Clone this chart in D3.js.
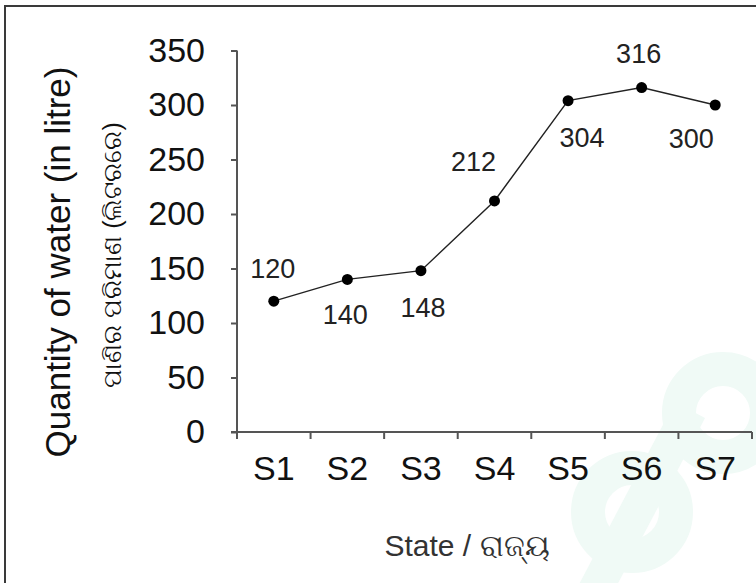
<!DOCTYPE html>
<html>
<head>
<meta charset="utf-8">
<script src="https://cdn.jsdelivr.net/npm/d3@7"></script>
<style>
  body { margin: 0; background: #fff; }
  svg { display: block; font-family: "Liberation Sans", Arial, sans-serif; }
</style>
</head>
<body>
<svg id="chart" width="756" height="583"></svg>
<script>
// data
const states = ["S1", "S2", "S3", "S4", "S5", "S6", "S7"];
const water = [120, 140, 148, 212, 304, 316, 300];
const yTicks = [0, 50, 100, 150, 200, 250, 300, 350];
// value labels: nudge from the point (baseline offsets)
const labelDx = [-1, -2, 2, -21, 14, -3, -24];
const labelDy = [-23, 45, 46, -30, 46, -25, 43];

const svg = d3.select("#chart");

// frame round the picture (it runs off the right and bottom)
svg.append("rect")
  .attr("x", 5).attr("y", 6)
  .attr("width", 760).attr("height", 600)
  .attr("fill", "none")
  .attr("stroke", "#3a3a3a")
  .attr("stroke-width", 2);

// faint watermark bottom right
const wm = svg.append("g").attr("fill", "none").attr("stroke", "#f0faf6");
wm.append("circle").attr("cx", 723).attr("cy", 413).attr("r", 44).attr("stroke-width", 34);
wm.append("circle").attr("cx", 632).attr("cy", 512).attr("r", 44).attr("stroke-width", 34);
wm.append("path").attr("d", "M590,600 L690,410").attr("stroke-width", 34);

const x = d3.scaleBand().domain(states).range([237, 752]);
const y = d3.scaleLinear().domain([0, 350]).range([432, 50.5]);

// y axis
const yAxis = svg.append("g")
  .attr("transform", "translate(237,0)")
  .call(d3.axisLeft(y).tickValues(yTicks).tickSize(6).tickPadding(26));
yAxis.select(".domain").attr("stroke", "#555").attr("stroke-width", 2)
  .attr("d", `M0,${y(350)}V${y(0) + 7}`);
yAxis.selectAll(".tick line").attr("stroke", "#555").attr("stroke-width", 2);
yAxis.selectAll(".tick text")
  .attr("fill", "#111")
  .style("font-size", "34px");

// x axis: labels at band centres, ticks on band edges
const xAxis = svg.append("g")
  .attr("transform", `translate(0,${y(0)})`)
  .call(d3.axisBottom(x).tickSize(0).tickPadding(24));
xAxis.select(".domain").attr("stroke", "#555").attr("stroke-width", 2)
  .attr("d", `M${x.range()[0] - 6},0H${x.range()[1]}`);
xAxis.selectAll(".tick text")
  .attr("fill", "#111")
  .style("font-size", "34px");
const edges = states.map(s => x(s)).concat([x(states[states.length - 1]) + x.bandwidth()]);
xAxis.selectAll(".edge")
  .data(edges.slice(1))
  .join("line")
  .attr("x1", d => d).attr("x2", d => d)
  .attr("y1", 0).attr("y2", 7)
  .attr("stroke", "#555").attr("stroke-width", 2);

// the line and its points
const cx = (d, i) => x(states[i]) + x.bandwidth() / 2;
svg.append("path")
  .datum(water)
  .attr("fill", "none")
  .attr("stroke", "#222")
  .attr("stroke-width", 1.4)
  .attr("d", d3.line().x(cx).y(d => y(d)));

svg.selectAll(".pt")
  .data(water)
  .join("circle")
  .attr("cx", cx)
  .attr("cy", d => y(d))
  .attr("r", 5.5)
  .attr("fill", "#000");

svg.selectAll(".val")
  .data(water)
  .join("text")
  .attr("x", (d, i) => cx(d, i) + labelDx[i])
  .attr("y", (d, i) => y(d) + labelDy[i])
  .attr("text-anchor", "middle")
  .attr("fill", "#222")
  .style("font-size", "27px")
  .text(d => d);

// axis titles
svg.append("text")
  .attr("transform", "translate(70,262) rotate(-90)")
  .attr("text-anchor", "middle")
  .attr("fill", "#111")
  .style("font-size", "35px")
  .text("Quantity of water (in litre)");

svg.append("text")
  .attr("transform", "translate(121,255) rotate(-90)")
  .attr("text-anchor", "middle")
  .attr("fill", "#111")
  .style("font-size", "25px")
  .text("ପାଣିର ପରିମାଣ (ଲିଟରରେ)");

svg.append("text")
  .attr("x", 467).attr("y", 556)
  .attr("text-anchor", "middle")
  .attr("fill", "#333")
  .style("font-size", "30px")
  .text("State / ରାଜ୍ୟ");
</script>
</body>
</html>
